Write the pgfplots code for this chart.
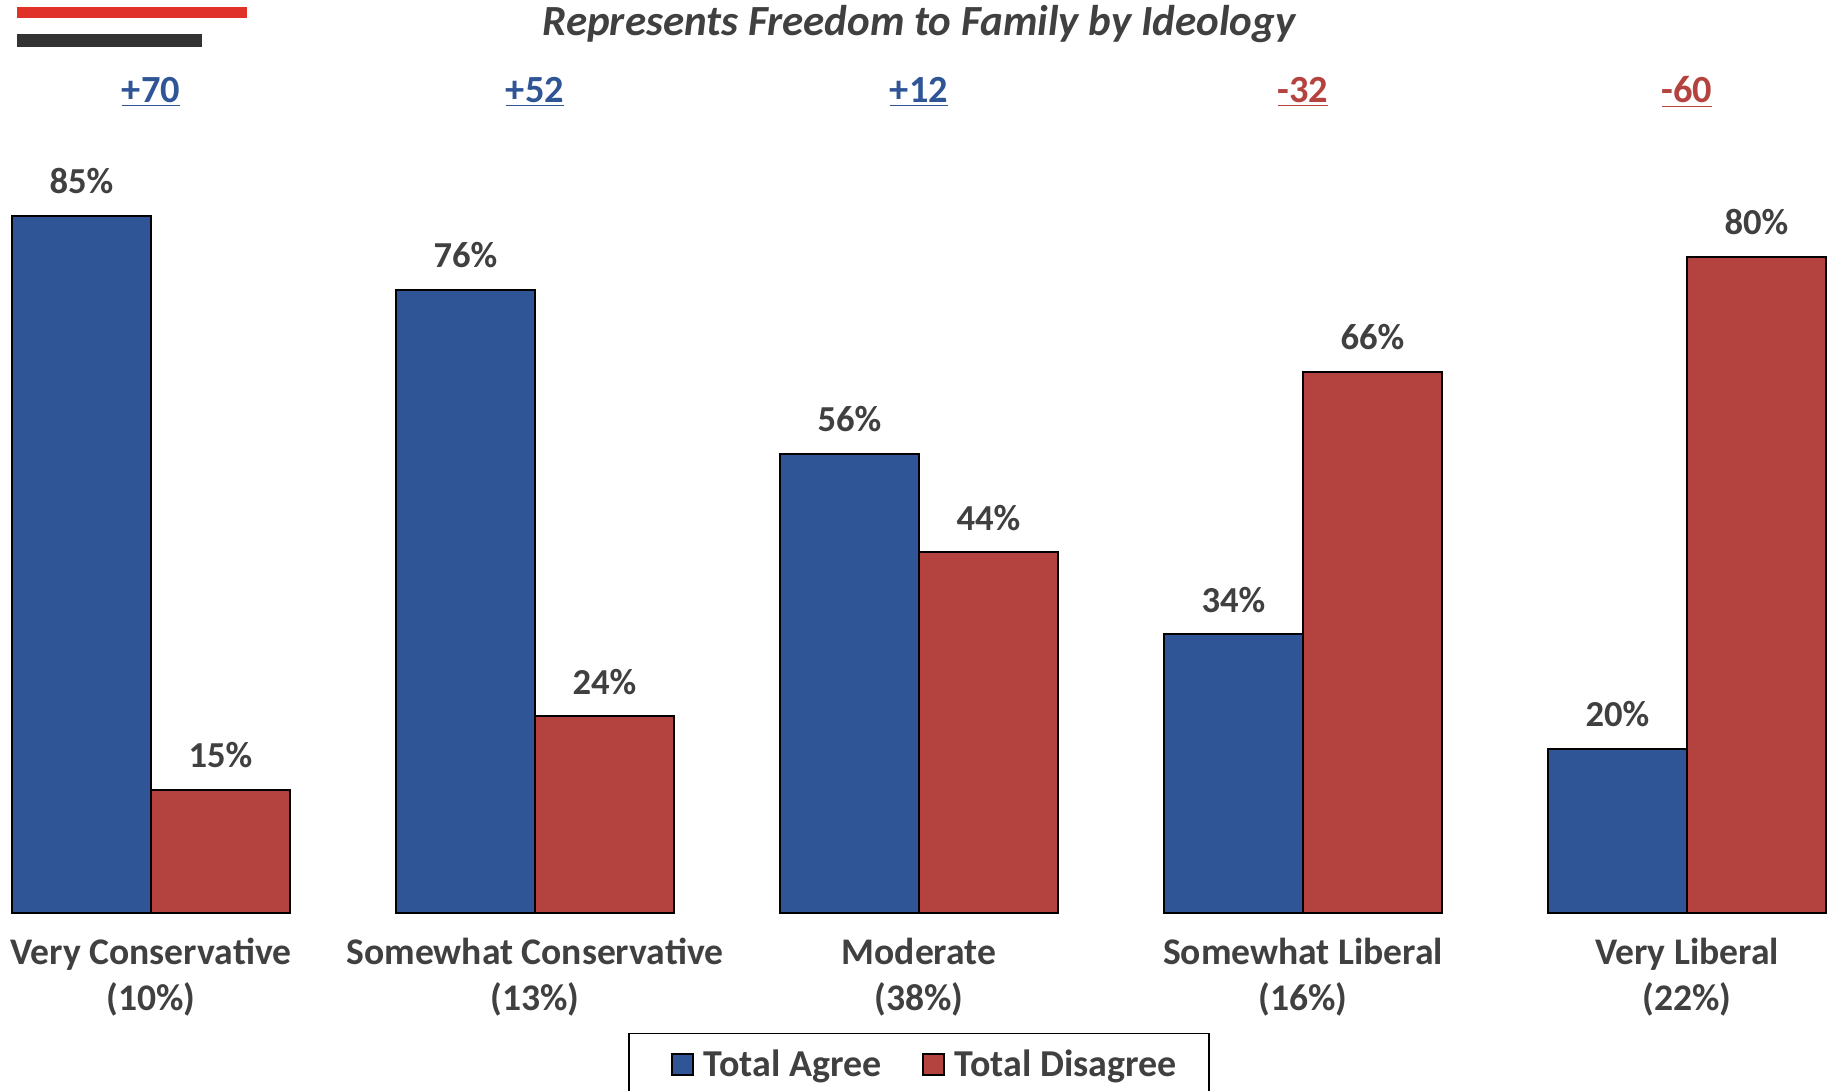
\documentclass[border=0pt]{standalone}
\usepackage{fontspec}
\setmainfont{Carlito}
\usepackage{pgfplots}
\pgfplotsset{compat=1.18}
\definecolor{cblue}{RGB}{47,85,151}
\definecolor{cred}{RGB}{180,66,63}
\definecolor{ctext}{RGB}{64,64,64}
\definecolor{topred}{RGB}{224,50,40}
\definecolor{topdark}{RGB}{51,51,51}
\begin{document}
\begin{tikzpicture}[x=1pt,y=1pt]
\begin{axis}[
  at={(6pt,89pt)}, anchor=south west,
  scale only axis, width=907pt, height=410pt,
  xmin=-0.362, xmax=4.362, ymin=0, ymax=100,
  axis line style={draw=none}, tick style={draw=none},
  ytick=\empty,
  xtick={0,1,2,3,4},
  xticklabels={{Very Conservative\\(10\%)},{Somewhat Conservative\\(13\%)},{Moderate\\(38\%)},{Somewhat Liberal\\(16\%)},{Very Liberal\\(22\%)}},
  xticklabel style={align=center, text=ctext, font=\fontsize{18.8}{23.3}\selectfont\bfseries, anchor=north, inner sep=0pt, yshift=-8pt},
  ybar=0pt, bar width=69.5pt,
  clip=false,
  /pgf/number format/assume math mode=true,
  nodes near coords={\pgfmathprintnumber{\pgfplotspointmeta}\%},
  nodes near coords style={font=\fontsize{18.3}{22}\selectfont\bfseries, text=ctext, anchor=south, inner sep=0pt, yshift=10.5pt},
  legend columns=2,
  legend style={at={(0.5,-0.1463)}, anchor=north, draw=black, line width=0.75pt,
    font=\fontsize{19}{23}\selectfont\bfseries, text=ctext, inner xsep=14pt, inner ysep=6pt,
    /tikz/every even column/.append style={column sep=11.5pt},
    /tikz/every odd column/.append style={column sep=3pt}},
  legend image code/.code={\path (0pt,0pt); \draw[#1,draw=black,line width=0.75pt] (7pt,-5.25pt) rectangle (17.5pt,5.25pt);},
]
\addplot[fill=cblue, draw=black, line width=0.75pt] coordinates {(0,85) (1,76) (2,56) (3,34) (4,20)};
\addplot[fill=cred, draw=black, line width=0.75pt] coordinates {(0,15) (1,24) (2,44) (3,66) (4,80)};
\legend{Total Agree, Total Disagree}
\node[anchor=base, text=cblue, font=\fontsize{19.2}{22}\selectfont\bfseries] at (axis cs:0,98.8) {\underline{+70}};
\node[anchor=base, text=cblue, font=\fontsize{19.2}{22}\selectfont\bfseries] at (axis cs:1,98.8) {\underline{+52}};
\node[anchor=base, text=cblue, font=\fontsize{19.2}{22}\selectfont\bfseries] at (axis cs:2,98.8) {\underline{+12}};
\node[anchor=base, text=cred, font=\fontsize{19.2}{22}\selectfont\bfseries] at (axis cs:3,98.8) {\underline{-32}};
\node[anchor=base, text=cred, font=\fontsize{19.2}{22}\selectfont\bfseries] at (axis cs:4,98.8) {\underline{-60}};
\end{axis}
\fill[topred] (8.5,536.5) rectangle (123.5,542);
\fill[topdark] (8.5,522) rectangle (101,528.5);
\node[anchor=base, text=ctext, font=\fontsize{21.5}{26}\selectfont\bfseries\itshape] at (459.5,527.5) {Represents Freedom to Family by Ideology};
\pgfresetboundingbox
\path[use as bounding box] (0,0) rectangle (917.5,545.5);
\end{tikzpicture}
\end{document}
